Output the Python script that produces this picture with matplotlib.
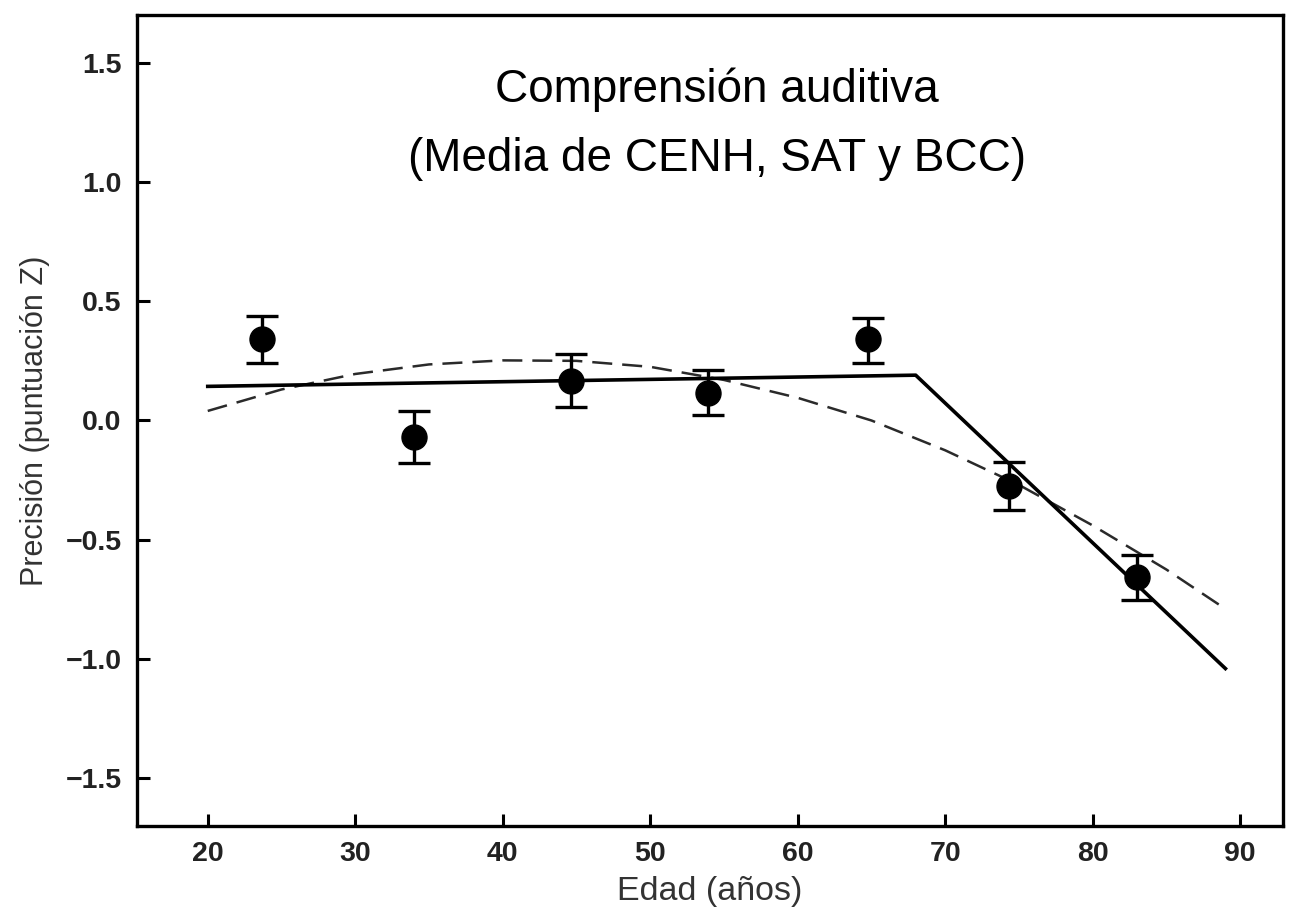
import matplotlib
matplotlib.use("Agg")
import matplotlib.pyplot as plt

plt.rcParams["font.family"] = ["Liberation Sans", "DejaVu Sans"]

# medias por grupo de edad (puntuación Z) y error típico
edad = [23.7, 34.0, 44.6, 53.9, 64.8, 74.3, 83.0]
media = [0.34, -0.07, 0.165, 0.117, 0.34, -0.276, -0.657]
err_sup = [0.10, 0.11, 0.115, 0.095, 0.09, 0.10, 0.095]
err_inf = [0.10, 0.11, 0.11, 0.095, 0.10, 0.10, 0.095]

# ajuste segmentado (línea continua)
seg_x = [20, 68, 89]
seg_y = [0.143, 0.19, -1.04]

# ajuste cuadrático (línea discontinua)
cuad_x = [20, 25, 30, 35, 40, 45, 50, 55, 60, 65, 70, 75, 80, 85, 89]
cuad_y = [0.04, 0.13, 0.195, 0.235, 0.252, 0.25, 0.225, 0.17, 0.095, 0.0,
          -0.125, -0.27, -0.44, -0.625, -0.79]

fig = plt.figure(figsize=(12.98, 9.14), dpi=100)
ax = fig.add_axes([0.1055, 0.0963, 0.8829, 0.8873])

ax.plot(cuad_x, cuad_y, color="#2a2a2a", lw=1.8, dashes=(8, 4))
ax.plot(seg_x, seg_y, color="black", lw=2.6)
ax.errorbar(edad, media, yerr=[err_inf, err_sup], fmt="o", color="black",
            ms=18, elinewidth=2.4, capsize=11.5, capthick=2.4)

ax.set_xlim(15.2, 92.9)
ax.set_ylim(-1.7, 1.7)
ax.set_xticks([20, 30, 40, 50, 60, 70, 80, 90])
ax.set_yticks([-1.5, -1.0, -0.5, 0.0, 0.5, 1.0, 1.5])
ax.set_yticklabels(["\u22121.5", "\u22121.0", "\u22120.5", "0.0", "0.5", "1.0", "1.5"])
ax.tick_params(direction="in", length=9, width=2.2, labelsize=20.5, pad=11,
               colors="black", labelcolor="#222222")
for lab in ax.get_xticklabels() + ax.get_yticklabels():
    lab.set_fontweight("bold")
for s in ax.spines.values():
    s.set_linewidth(2.4)

ax.set_xlabel("Edad (años)", fontsize=24.5, color="#333333", labelpad=6)
ax.set_ylabel("Precisión (puntuación Z)", fontsize=22, color="#333333", labelpad=11)

ax.text(0.506, 0.908, "Comprensión auditiva", transform=ax.transAxes,
        ha="center", va="center", fontsize=33)
ax.text(0.506, 0.822, "(Media de CENH, SAT y BCC)", transform=ax.transAxes,
        ha="center", va="center", fontsize=33)

fig.savefig("out.png", dpi=100)
